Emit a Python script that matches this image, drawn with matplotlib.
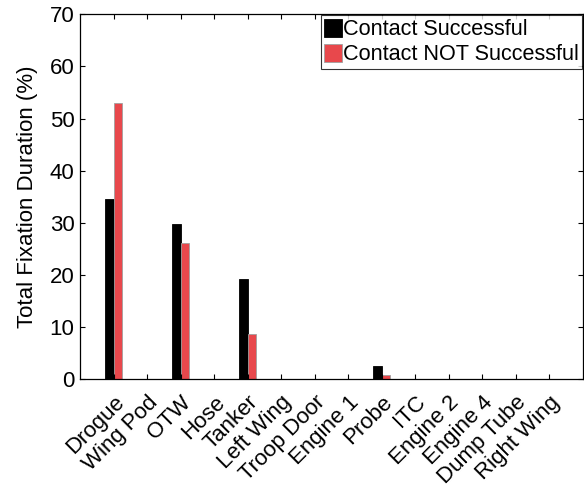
import numpy as np
import matplotlib
matplotlib.use('Agg')
import matplotlib.pyplot as plt

# categories and values
areas = ["Drogue", "Wing Pod", "OTW", "Hose", "Tanker", "Left Wing", "Troop Door",
         "Engine 1", "Probe", "ITC", "Engine 2", "Engine 4", "Dump Tube", "Right Wing"]
successful = [34.6, 0, 29.7, 0, 19.2, 0, 0, 0, 2.6, 0, 0, 0, 0, 0]
not_successful = [52.9, 0, 26.1, 0, 8.7, 0, 0, 0, 0.9, 0, 0, 0, 0, 0]

plt.rcParams['font.family'] = ['Liberation Sans', 'DejaVu Sans']

fig = plt.figure(figsize=(5.84, 4.91), dpi=100)
ax = fig.add_axes([0.137, 0.2275, 0.861, 0.7435])

x = np.arange(1, len(areas) + 1)
w = 0.26
ax.bar(x - w / 2, successful, w, color='black', edgecolor='black', linewidth=0.6,
       label='Contact Successful')
ax.bar(x + w / 2, not_successful, w, color='#E8484C', edgecolor='#A0A0A0', linewidth=0.6,
       label='Contact NOT Successful')

ax.set_xlim(0, 15)
ax.set_ylim(0, 70)
ax.set_yticks(range(0, 71, 10))
ax.set_xticks(x)
ax.set_xticklabels(areas, rotation=45, ha='right', va='top', rotation_mode='anchor')
ax.tick_params(direction='in', length=3.6, width=0.8, top=True, right=True,
               labelsize=16, pad=4)
ax.tick_params(axis='x', pad=9)
for s in ax.spines.values():
    s.set_linewidth(0.9)

ax.set_ylabel('Total Fixation Duration (%)', fontsize=16, labelpad=8)

leg = ax.legend(loc='upper right', fontsize=15.6, frameon=True, fancybox=False,
                edgecolor='black', borderaxespad=0.05, borderpad=0.15,
                handlelength=0.8, handleheight=0.95, handletextpad=0.05,
                labelspacing=0.15)
leg.get_frame().set_linewidth(0.8)

fig.savefig('out.png', dpi=100)
